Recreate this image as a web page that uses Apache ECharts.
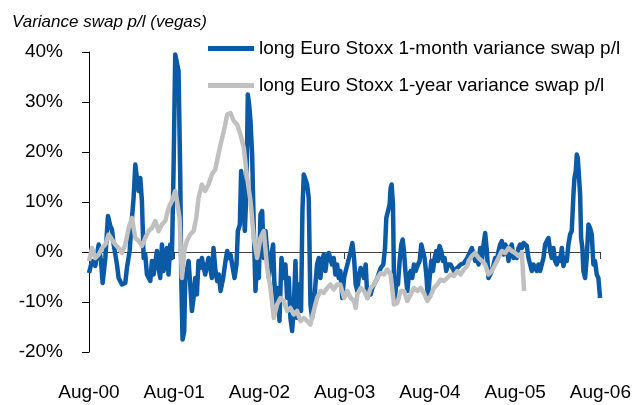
<!DOCTYPE html>
<html>
<head>
<meta charset="utf-8">
<script src="https://cdn.jsdelivr.net/npm/echarts@6/dist/echarts.min.js"></script>
<style>html,body{margin:0;padding:0;background:#fff;}#c{width:634px;height:405px;}</style>
</head>
<body>
<div id="c"></div>
<script>
// x = months since Aug-2000, y = p/l in vegas (%)
const tickLabels = ['Aug-00','Aug-01','Aug-02','Aug-03','Aug-04','Aug-05','Aug-06'];
const yTicks = [-20,-10,0,10,20,30,40];
const seriesNames = ['long Euro Stoxx 1-month variance swap p/l','long Euro Stoxx 1-year variance swap p/l'];

const oneMonth = [
[0,-4.2],[0.42,-1.8],[0.89,-2.8],[1.36,1.5],[1.69,-1.8],[1.92,-6.2],[2.30,-1.2],[2.67,7.2],[3.00,5.2],[3.23,4.5],[3.47,1.5],
[3.94,-2.5],[4.17,-5.2],[4.64,-6.5],[5.11,-6.2],[5.34,-3.2],[5.72,0.2],[6.05,6.8],[6.28,10.8],[6.52,17.5],[6.75,14.8],
[6.99,12.2],[7.22,14.8],[7.45,10.2],[7.69,-1.2],[7.92,-0.5],[8.16,-4.5],[8.63,-5.8],[8.86,-1.8],[9.10,-4.5],[9.56,0.2],
[9.80,-3.2],[10.03,-5.2],[10.27,1.5],[10.50,-3.8],[10.97,0.8],[11.20,-4.5],[11.44,1.5],[11.67,-1.2],[11.91,16.8],[12.14,39.5],
[12.38,39.5],[12.61,36.2],[12.85,14.8],[12.99,-5.2],[13.17,-17.5],[13.41,-15.8],[13.55,-5.2],[13.78,-3.8],[14.02,-1.8],
[14.25,-6.5],[14.49,-11.8],[14.72,-9.2],[14.96,-5.2],[15.19,-8.5],[15.42,-1.8],[15.66,-3.2],[15.89,-1.2],[16.36,-4.5],
[16.83,-1.2],[17.30,-5.2],[17.53,0.8],
[17.81,-3.8],[18.05,-5.8],[18.28,-4.5],[18.52,-7.8],[18.89,-5.2],[19.22,-1.8],[19.46,0.2],[19.69,-1.2],[19.92,-0.5],
[20.16,-2.5],[20.49,-5.2],[20.77,-2.5],[20.96,4.2],[21.24,5.5],[21.42,16.2],[21.71,12.2],[21.94,4.2],[22.17,12.2],[22.36,31.5],
[22.55,29.5],[22.74,26.2],[22.97,19.5],[23.21,4.2],[23.44,-7.8],[23.67,-1.8],[23.91,-5.2],[24.14,7.5],[24.38,8.2],[24.61,-1.2],
[24.85,4.2],[25.08,0.2],[25.32,-5.2],[25.55,-1.8],[25.92,1.5],[26.11,-6.5],[26.35,-10.5],[26.58,-7.2],[26.82,-13.8],[27.10,-1.2],
[27.42,-5.2],[27.66,-2.5],[27.89,-9.2],[28.13,-5.2],[28.36,-13.2],[28.60,-15.8],[28.83,-11.2],[29.07,-1.8],[29.30,-13.2],
[29.53,-6.5],[29.86,-11.8],[30.05,8.2],[30.24,15.5],[30.47,15.5],[30.71,13.5],[30.94,10.8],[31.18,-10.5],[31.41,-13.2],
[31.64,-11.2],[31.88,-6.5],[32.11,-2.5],[32.35,-1.2],[32.58,-5.2],[32.82,-1.8],[33.05,-0.5],[33.29,-3.8],[33.52,-1.2],
[33.75,-0.2],[33.99,-0.2],[34.22,-2.5],[34.46,-1.2],[34.69,-4.5],[34.93,-2.5],[35.16,-5.2],[35.39,-3.8],
[35.67,-9.2],[35.91,-5.2],[36.14,-3.8],[36.38,-2.5],[36.61,-1.2],[36.85,0.2],[37.08,1.8],[37.32,-1.2],[37.55,-6.5],[37.78,-7.8],
[38.02,-4.5],[38.25,-3.2],[38.49,-3.2],[38.72,-5.2],[38.96,-2.5],[39.19,-9.2],[39.42,-7.8],[39.66,-8.5],[39.89,-7.2],[40.13,-6.5],
[40.60,-5.2],[41.07,-3.2],[41.44,-2.5],[41.68,0.8],[41.86,6.8],[42.10,8.2],[42.33,9.5],[42.47,12.8],[42.61,13.5],[42.80,9.5],
[42.94,-5.2],[43.08,-9.2],[43.32,-5.2],[43.50,-6.5],[43.74,-1.8],[43.97,1.5],[44.16,2.5],[44.35,0.2],[44.58,-4.5],[44.82,-7.8],
[45.05,-4.5],[45.29,-3.8],[45.52,-5.2],[45.75,-2.5],[45.99,-3.8],[46.32,-2.5],[46.55,-1.8],[46.79,1.5],[47.02,1.2],[47.25,-1.2],
[47.49,-4.5],[47.72,-9.2],[47.96,-5.2],[48.19,-1.8],[48.43,-3.8],[48.66,-1.2],[48.90,0.2],[49.13,-1.8],[49.36,1.2],[49.60,0.2],
[49.83,-1.8],[50.07,-1.2],[50.30,-3.8],[50.54,-2.5],[50.91,-2.5],[51.38,-3.8],[51.85,-3.2],[52.32,-2.5],[52.79,-2.2],[53.26,-1.2],
[53.44,-1.2],[53.91,0.8],[54.14,-0.5],[54.38,-1.8],[54.61,-1.2],[54.85,-2.5],[55.08,0.8],[55.32,-1.8],[55.55,1.5],[55.78,3.8],
[56.02,0.2],[56.25,-5.2],[56.49,-5.2],[56.72,-3.8],[56.96,-2.5],[57.19,-1.2],[57.42,-1.8],[57.66,0.2],[57.89,1.5],[58.13,2.2],
[58.36,-0.5],[58.60,1.5],[58.83,0.8],[59.07,-1.8],[59.30,0.8],[59.53,1.5],[59.77,-1.2],[60.00,-0.2],[60.24,-1.2],[60.47,0.8],
[60.71,1.5],[60.94,0.8],[61.18,1.8],[61.41,2.2],[61.64,1.2],[61.88,-1.2],[62.11,-1.2],[62.35,-3.8],[62.58,-2.5],[62.82,-3.2],
[63.05,-3.8],[63.28,-2.5],[63.52,-3.8],[63.75,-2.5],[63.99,-1.2],[64.22,1.5],[64.46,2.2],[64.69,2.8],[64.93,0.2],[65.16,-1.2],
[65.39,0.8],[65.63,-1.8],[65.86,-2.5],[66.10,-1.2],[66.33,-1.8],[66.57,0.8],[66.80,-2.8],[67.04,-1.2],[67.27,-1.8],[67.50,1.5],
[67.74,3.5],[67.97,4.2],[68.21,11.5],[68.35,14.8],[68.54,16.2],[68.68,19.5],[68.82,18.8],[69.00,14.8],[69.15,11.5],[69.29,2.8],
[69.47,0.8],[69.61,-3.8],[69.85,-5.2],[70.08,-1.2],[70.32,5.5],[70.55,4.8],[70.79,3.5],[71.02,-2.5],[71.25,-1.8],[71.49,-4.5],
[71.72,-5.2],[71.96,-9.2]
];

const oneYear = [
[0,-1.8],[0.42,0.8],[0.89,-1.2],[1.36,-0.5],[1.83,0.8],[2.30,1.5],[2.77,3.5],[3.23,2.5],[3.70,1.5],[4.17,0.8],[4.64,-0.2],
[5.11,1.5],[5.58,4.8],[6.05,6.8],[6.52,2.8],[6.99,2.2],[7.45,1.2],[7.92,2.8],[8.39,4.2],[8.86,4.8],[9.33,6.2],[9.80,4.2],
[10.27,5.5],[10.74,6.2],[11.20,8.8],[11.67,10.2],[12.14,12.2],[12.38,10.2],[12.75,6.8],[13.08,-5.2],[13.41,0.2],[13.78,2.2],
[14.25,3.5],[14.72,4.2],[15.10,6.8],[15.42,10.8],[15.89,13.5],[16.36,12.2],[16.83,13.5],[17.30,15.5],[17.77,16.5],
[18.05,16.2],[18.52,21.5],[18.99,24.2],[19.46,27.5],[19.92,27.8],[20.39,26.2],[20.86,25.5],[21.33,23.5],[21.80,20.8],
[22.27,14.8],[22.74,10.2],[23.21,2.8],[23.67,-1.2],[24.14,2.8],[24.61,4.2],[25.08,-3.2],[25.55,-7.2],[26.02,-13.2],[26.49,-10.5],
[26.96,-9.2],[27.42,-9.8],[27.89,-11.8],[28.36,-11.2],[28.83,-12.5],[29.30,-11.8],[29.77,-13.8],[30.24,-13.2],[30.71,-13.8],
[31.18,-14.5],[31.64,-11.8],[32.11,-9.2],[32.58,-7.8],[33.05,-8.2],[33.52,-7.2],[33.99,-6.5],[34.46,-7.5],[34.93,-6.5],[35.39,-6.5],
[35.91,-9.2],[36.38,-7.8],[36.85,-9.2],[37.32,-9.8],[37.55,-11.2],[37.78,-8.5],[38.25,-7.2],[38.72,-7.8],[39.19,-9.2],[39.66,-7.2],
[40.13,-6.5],[40.60,-5.2],[41.07,-4.2],[41.54,-4.5],[42.00,-3.5],[42.47,-4.5],[42.94,-10.5],[43.41,-10.2],[43.88,-7.8],[44.35,-7.8],
[44.82,-9.8],[45.29,-8.5],[45.75,-7.2],[46.22,-7.8],[46.69,-7.2],[47.16,-8.2],[47.63,-9.8],[48.10,-8.8],[48.57,-7.2],[49.04,-6.5],
[49.50,-5.5],[49.97,-5.8],[50.44,-5.2],[50.91,-4.5],[51.38,-4.8],[51.85,-3.8],[52.32,-4.5],[52.79,-3.5],[53.26,-2.8],
[53.44,-1.8],[53.91,-0.8],[54.38,-0.2],[54.85,-1.2],[55.32,-1.8],[55.78,-2.5],[56.25,-4.5],[56.72,-3.8],[57.19,-2.5],[57.66,-1.2],
[58.13,0.2],[58.60,-0.2],[59.07,0.8],[59.53,0.2],[60.00,-0.2],[60.47,-0.8],[60.94,-0.2],[61.18,-0.2],[61.27,-7.8]
];

const FONT = "'Liberation Sans',Arial,sans-serif";
const BLUE = '#0B5AA6';
const GRAY = '#C0C0C0';

const chart = echarts.init(document.getElementById('c'), null, {renderer: 'canvas'});
chart.setOption({
  animation: false,
  backgroundColor: '#fff',
  title: {
    text: 'Variance swap p/l (vegas)',
    left: 7, top: 9,
    textStyle: {fontFamily: FONT, fontSize: 17, fontStyle: 'italic', fontWeight: 'normal', color: '#000'}
  },
  legend: {
    orient: 'vertical', left: 203, top: 34,
    itemWidth: 46, itemHeight: 5, itemGap: 18, icon: 'rect',
    data: seriesNames,
    textStyle: {fontFamily: FONT, fontSize: 19, color: '#000'}
  },
  grid: {left: 89, right: 32, top: 52, bottom: 53, containLabel: false},
  xAxis: [
    {
      type: 'value', min: 0, max: 72, interval: 12, position: 'bottom',
      axisLine: {show: false, onZero: false}, axisTick: {show: false}, splitLine: {show: false},
      axisLabel: {margin: 31, fontFamily: FONT, fontSize: 19, color: '#000',
        formatter: v => tickLabels[Math.round(v / 12)] || ''}
    },
    {
      type: 'value', min: 0, max: 72, interval: 12, position: 'bottom',
      axisLine: {show: true, onZero: true, lineStyle: {color: '#404040', width: 1}},
      axisTick: {show: true, inside: false, length: 7, lineStyle: {color: '#404040'}},
      axisLabel: {show: false}, splitLine: {show: false}
    }
  ],
  yAxis: {
    type: 'value', min: yTicks[0], max: yTicks[yTicks.length - 1], interval: 10,
    axisLine: {show: true, onZero: false, lineStyle: {color: '#000', width: 1}},
    axisTick: {show: true, inside: false, length: 7, lineStyle: {color: '#000'}},
    splitLine: {show: false},
    axisLabel: {margin: 26, fontFamily: FONT, fontSize: 19, color: '#000', formatter: '{value}%'}
  },
  series: [
    {name: seriesNames[0], type: 'line', xAxisIndex: 0, data: oneMonth, showSymbol: false, symbol: 'none',
     lineStyle: {color: BLUE, width: 4.5, join: 'round'}, itemStyle: {color: BLUE}, z: 2},
    {name: seriesNames[1], type: 'line', xAxisIndex: 0, data: oneYear, showSymbol: false, symbol: 'none',
     lineStyle: {color: GRAY, width: 4.5, join: 'round'}, itemStyle: {color: GRAY}, z: 3}
  ]
});
</script>
</body>
</html>
